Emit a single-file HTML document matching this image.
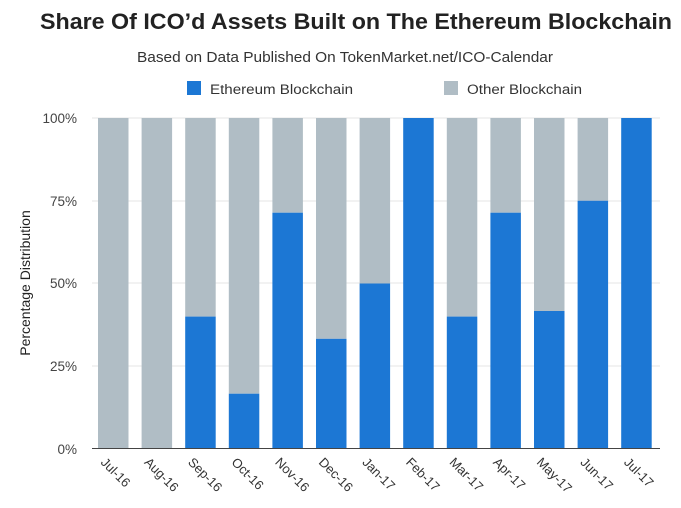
<!DOCTYPE html><html><head><style>body{margin:0;background:#fff}svg{display:block}text{font-family:"Liberation Sans",sans-serif}</style></head><body>
<svg width="681" height="508" xmlns="http://www.w3.org/2000/svg">
<text x="40" y="29" textLength="632" lengthAdjust="spacingAndGlyphs" font-size="22" font-weight="bold" fill="#222">Share Of ICO’d Assets Built on The Ethereum Blockchain</text>
<text x="137" y="62" textLength="416" lengthAdjust="spacingAndGlyphs" font-size="15" fill="#333">Based on Data Published On TokenMarket.net/ICO-Calendar</text>
<rect x="187" y="81" width="14" height="14" fill="#1c77d4"/><text x="210" y="94" textLength="143" lengthAdjust="spacingAndGlyphs" font-size="13.5" fill="#333">Ethereum Blockchain</text>
<rect x="444" y="81" width="14" height="14" fill="#b0bdc5"/><text x="467" y="94" textLength="115" lengthAdjust="spacingAndGlyphs" font-size="13.5" fill="#333">Other Blockchain</text>
<g font-size="13.5" fill="#444" text-anchor="end">
<text x="77" y="123">100%</text><text x="77" y="206">75%</text><text x="77" y="288">50%</text><text x="77" y="371">25%</text><text x="77" y="454">0%</text></g>
<g stroke="#e6e6e6"><line x1="92" y1="118" x2="660" y2="118"/><line x1="92" y1="201" x2="660" y2="201"/><line x1="92" y1="283" x2="660" y2="283"/><line x1="92" y1="366" x2="660" y2="366"/></g>
<text transform="translate(30,283) rotate(-90)" text-anchor="middle" font-size="14" fill="#222">Percentage Distribution</text>
<g fill="#b0bdc5">
<rect x="98" y="118" width="30.5" height="331"/>
<rect x="141.6" y="118" width="30.5" height="331"/>
<rect x="185.2" y="118" width="30.5" height="198.6"/>
<rect x="228.8" y="118" width="30.5" height="275.7"/>
<rect x="272.4" y="118" width="30.5" height="94.7"/>
<rect x="316" y="118" width="30.5" height="220.8"/>
<rect x="359.6" y="118" width="30.5" height="165.5"/>
<rect x="446.8" y="118" width="30.5" height="198.6"/>
<rect x="490.4" y="118" width="30.5" height="94.7"/>
<rect x="534" y="118" width="30.5" height="193"/>
<rect x="577.6" y="118" width="30.5" height="82.75"/>
</g>
<g fill="#1c77d4">
<rect x="185.2" y="316.6" width="30.5" height="132.4"/>
<rect x="228.8" y="393.7" width="30.5" height="55.3"/>
<rect x="272.4" y="212.7" width="30.5" height="236.3"/>
<rect x="316" y="338.8" width="30.5" height="110.2"/>
<rect x="359.6" y="283.5" width="30.5" height="165.5"/>
<rect x="403.2" y="118" width="30.5" height="331"/>
<rect x="446.8" y="316.6" width="30.5" height="132.4"/>
<rect x="490.4" y="212.7" width="30.5" height="236.3"/>
<rect x="534" y="311" width="30.5" height="138"/>
<rect x="577.6" y="200.75" width="30.5" height="248.25"/>
<rect x="621.2" y="118" width="30.5" height="331"/>
</g>
<line x1="92" y1="448.5" x2="660" y2="448.5" stroke="#444" stroke-width="1"/>
<g font-size="13" fill="#333">
<text transform="translate(100,463) rotate(45)">Jul-16</text>
<text transform="translate(143.6,463) rotate(45)">Aug-16</text>
<text transform="translate(187.2,463) rotate(45)">Sep-16</text>
<text transform="translate(230.8,463) rotate(45)">Oct-16</text>
<text transform="translate(274.4,463) rotate(45)">Nov-16</text>
<text transform="translate(318,463) rotate(45)">Dec-16</text>
<text transform="translate(361.6,463) rotate(45)">Jan-17</text>
<text transform="translate(405.2,463) rotate(45)">Feb-17</text>
<text transform="translate(448.8,463) rotate(45)">Mar-17</text>
<text transform="translate(492.4,463) rotate(45)">Apr-17</text>
<text transform="translate(536,463) rotate(45)">May-17</text>
<text transform="translate(579.6,463) rotate(45)">Jun-17</text>
<text transform="translate(623.2,463) rotate(45)">Jul-17</text>
</g>
</svg></body></html>
